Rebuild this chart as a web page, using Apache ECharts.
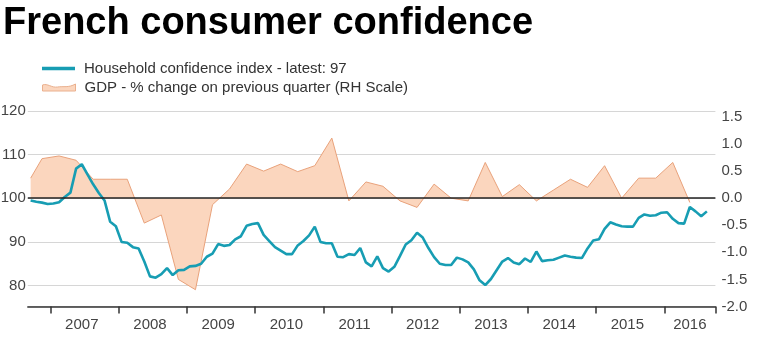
<!DOCTYPE html>
<html><head><meta charset="utf-8">
<script src="https://cdn.jsdelivr.net/npm/echarts@6/dist/echarts.min.js"></script>
<style>html,body{margin:0;padding:0;background:#fff}#c{width:768px;height:355px}</style>
</head><body><div id="c"></div>
<script>
const chartTitle = 'French consumer confidence';
const confName = 'Household confidence index - latest: 97';
const gdpName = 'GDP - % change on previous quarter (RH Scale)';

// monthly categories: Sep 2006 .. Sep 2016
const startYear = 2006, startMonth = 9, monthCount = 121;

// Household confidence index, monthly Sep 2006 .. Aug 2016
const confidence = [
  99.5, 99.2, 99.0, 98.7, 98.8, 99.1, 100.3, 101.3, 106.8, 107.8, 105.5, 103.2,
  101.2, 99.5, 94.6, 93.6, 90.0, 89.8, 88.8, 88.5, 85.5, 82.1, 81.8, 82.6,
  84.0, 82.4, 83.5, 83.6, 84.4, 84.5, 85.0, 86.6, 87.3, 89.5, 89.1, 89.3,
  90.6, 91.3, 93.7, 94.1, 94.3, 91.6, 90.2, 88.8, 88.0, 87.2, 87.2, 89.2,
  90.2, 91.5, 93.5, 90.0, 89.7, 89.7, 86.6, 86.5, 87.2, 87.0, 88.6, 85.3,
  84.4, 86.7, 84.0, 83.2, 84.3, 86.8, 89.4, 90.4, 92.1, 91.0, 88.6, 86.5,
  85.0, 84.7, 84.7, 86.4, 86.0, 85.3, 83.7, 81.2, 80.1, 81.5, 83.5, 85.5,
  86.3, 85.3, 84.9, 86.2, 85.4, 87.8, 85.6, 85.8, 85.9, 86.4, 86.9, 86.6,
  86.4, 86.3, 88.5, 90.3, 90.6, 93.0, 94.5, 94.0, 93.6, 93.5, 93.5, 95.5,
  96.3, 96.0, 96.1, 96.7, 96.8, 95.3, 94.3, 94.2, 98.0, 97.0, 95.9, 97.0
];

// GDP % change q/q, Q4 2006 .. Q2 2016
const gdpQuarterly = [
  0.73,
  0.78, 0.70, 0.35, 0.35,
  0.35, -0.46, -0.31, -1.50,
  -1.69, -0.12, 0.17, 0.63,
  0.50, 0.63, 0.49, 0.60,
  1.11, -0.05, 0.30, 0.22,
  -0.05, -0.17, 0.26, 0.00,
  -0.05, 0.66, 0.03, 0.25,
  -0.05, 0.15, 0.35, 0.20,
  0.60, 0.00, 0.37, 0.37,
  0.66, -0.08
];
// GDP line value at the left edge of the plot (Sep 2006)
const gdpEdge = 0.37;

const yearLabels = ['2007','2008','2009','2010','2011','2012','2013','2014','2015','2016'];

const months = [];
for (let i = 0; i < monthCount; i++) {
  const m = startMonth - 1 + i;
  months.push((startYear + Math.floor(m / 12)) + '-' + String(m % 12 + 1).padStart(2, '0'));
}
const gdpSeries = months.map(() => null);
gdpSeries[0] = gdpEdge;
gdpQuarterly.forEach((v, k) => { gdpSeries[2 + 3 * k] = v; });

const labelMonths = new Set(yearLabels.map(y => y + (y === '2016' ? '-05' : '-06')));

const font = 'Liberation Sans, Arial, sans-serif';
const chart = echarts.init(document.getElementById('c'), null, {renderer: 'canvas'});
chart.setOption({
  animation: false,
  backgroundColor: '#fff',
  title: {
    text: chartTitle, left: 0, top: 2, padding: [3, 3],
    textStyle: {fontFamily: font, fontSize: 38, fontWeight: 'bold', color: '#000'}
  },
  legend: [
    {
      data: [{name: confName, icon: 'rect'}],
      left: 42, top: 61, itemWidth: 33, itemHeight: 3.5, padding: 0,
      textStyle: {fontFamily: font, fontSize: 15, color: '#333', padding: [0, 0, 0, 4]}
    },
    {
      data: [{name: gdpName, icon: 'path://M0,2 C5,0 9,5 15,4 C21,3 26,5 33,1 L33,8 L0,8 Z',
              itemStyle: {color: '#fbd6be', borderColor: '#eab08e', borderWidth: 1}}],
      left: 42, top: 80, itemWidth: 33, itemHeight: 8, padding: 0,
      textStyle: {fontFamily: font, fontSize: 15, color: '#333', padding: [0, 0, 0, 4]}
    }
  ],
  grid: {left: 27.8, right: 52.6, top: 111, bottom: 48.5, containLabel: false, outerBoundsMode: 'none'},
  xAxis: {
    type: 'category', data: months, boundaryGap: true,
    axisLine: {show: true, onZero: false, lineStyle: {color: '#333', width: 1.5}},
    axisTick: {show: true, length: 7, interval: (i, v) => String(v).endsWith('-01'), lineStyle: {color: '#333', width: 1.5}},
    axisLabel: {interval: (i, v) => labelMonths.has(v), formatter: v => v.slice(0, 4),
                margin: 11, fontFamily: font, fontSize: 15, color: '#444'},
    splitLine: {show: false}
  },
  yAxis: [
    {
      type: 'value', position: 'left', min: 75.2, max: 120, splitNumber: 5,
      axisLine: {show: false}, axisTick: {show: false},
      axisLabel: {showMinLabel: false, margin: 2, fontFamily: font, fontSize: 15, color: '#444'},
      splitLine: {show: true, lineStyle: {color: '#d6d6d6', width: 1.2}}
    },
    {
      type: 'value', position: 'right', min: -2, max: 1.61, interval: 0.5,
      axisLine: {show: false}, axisTick: {show: false},
      axisLabel: {showMaxLabel: false, margin: 6, fontFamily: font, fontSize: 15, color: '#444',
                  formatter: v => v.toFixed(1)},
      splitLine: {show: false}
    }
  ],
  series: [
    {
      name: gdpName, type: 'line', yAxisIndex: 1, data: gdpSeries, connectNulls: true,
      showSymbol: false, z: 2,
      lineStyle: {color: '#e9a27b', width: 1},
      itemStyle: {color: '#e9a27b'},
      areaStyle: {color: '#fbd6be', opacity: 1},
      markLine: {silent: true, symbol: 'none', label: {show: false},
                 lineStyle: {color: '#222', width: 1.5, type: 'solid'},
                 data: [{yAxis: 0}]}
    },
    {
      name: confName, type: 'line', yAxisIndex: 0, data: confidence,
      showSymbol: false, z: 3,
      lineStyle: {color: '#179db3', width: 2.6},
      itemStyle: {color: '#179db3'}
    }
  ]
});
</script>
</body></html>
